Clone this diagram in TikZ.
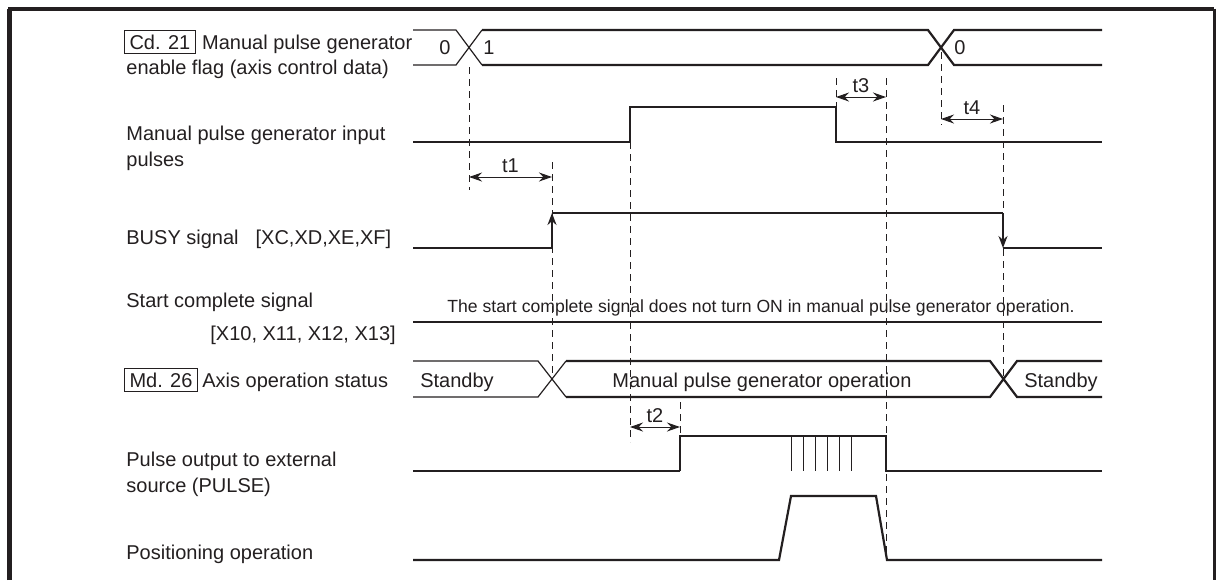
\documentclass[tikz,border=0pt]{standalone}
\usepackage{fontspec}
\setmainfont{Liberation Sans}
\usetikzlibrary{arrows.meta, positioning}
\definecolor{cink}{HTML}{231F20}
\tikzset{
  every picture/.style={font=\fontsize{10pt}{13pt}\selectfont, color=cink},
  sig/.style={line width=1.1pt},
  sigpre/.style={line width=0.6pt},
  guide/.style={line width=0.5pt, dash pattern=on 3.5pt off 2.5pt},
  dimarrow/.style={{Stealth[length=6.5pt,width=4.5pt]}-{Stealth[length=6.5pt,width=4.5pt]}, line width=0.5pt},
  dimlbl/.style={above, inner sep=2pt},
  flank/.style={-{Stealth[length=6pt,width=4.5pt]}, line width=1.1pt},
  lbl/.style={inner sep=0pt, align=left, anchor=base west},
  tag/.style={draw, line width=0.5pt, inner xsep=2.5pt, inner ysep=2pt, anchor=base west},
  sigtext/.style={inner sep=0pt, anchor=base},
  note/.style={font=\fontsize{8.8pt}{10pt}\selectfont, inner sep=0pt, anchor=base},
}
\begin{document}
\begin{tikzpicture}[x=0.5pt, y=-0.5pt]
  \useasboundingbox (0,0) rectangle (1216,580);
  % frame
  \draw[line width=2.5pt] (9.5,580) -- (9.5,9);
  \draw[line width=2pt] (8.25,9) -- (1214,9);
  \draw[line width=1.5pt] (1214,8.5) -- (1214,580);

  % signal names
  \node[tag] (cd21) at (124,49) {Cd. 21};
  \node[lbl, right=3pt of cd21.base east, anchor=base west] (flag1) {Manual pulse generator};
  \node[lbl] (flag2) at (126,74) {enable flag (axis control data)};
  \node[lbl] (mpgin) at (126,166) {Manual pulse generator input\\pulses};
  \node[lbl] (busy) at (126,244) {BUSY signal\hspace{0.85em}[XC,XD,XE,XF]};
  \node[lbl] (stc) at (126,307) {Start complete signal};
  \node[lbl] (stcx) at (210,340) {[X10, X11, X12, X13]};
  \node[tag] (md26) at (124,387) {Md. 26};
  \node[lbl, right=2pt of md26.base east, anchor=base west] (axis) {Axis operation status};
  \node[lbl] (pout) at (126,492) {Pulse output to external\\source (PULSE)};
  \node[lbl] (posop) at (126,559) {Positioning operation};

  % Cd. 21 enable flag
  \draw[sigpre] (413,30) -- (456,30) -- (482,65) (413,65) -- (456,65) -- (482,30);
  \draw[sig] (482,30) -- (928,30) -- (954,65) -- (1102,65) (482,65) -- (928,65) -- (954,30) -- (1102,30);
  \node[sigtext] (flag0) at (445,54) {0};
  \node[sigtext] (flagon) at (489,54) {1};
  \node[sigtext] (flagoff) at (960,54) {0};

  % input pulses
  \draw[sigpre] (413,142) -- (630,142);
  \draw[sig] (630,142) -- (630,107) -- (836,107) -- (836,142) -- (1102,142);

  % BUSY
  \draw[sigpre] (413,248) -- (552,248);
  \draw[flank] (552,248) -- (552,213);
  \draw[sig] (552,213) -- (1003,213);
  \draw[flank] (1003,213) -- (1003,248);
  \draw[sig] (1003,248) -- (1102,248);

  % start complete
  \draw[sig] (413,322) -- (1102,322);
  \node[note] (stcnote) at (761,312) {The start complete signal does not turn ON in manual pulse generator operation.};

  % Md. 26 axis status
  \draw[sigpre] (413,361) -- (538,361) -- (566,397) (413,397) -- (538,397) -- (566,361);
  \draw[sig] (566,361) -- (990,361) -- (1017,397) -- (1102,397) (566,397) -- (990,397) -- (1017,361) -- (1102,361);
  \node[sigtext] (stby1) at (457,387) {Standby};
  \node[sigtext] (mpgop) at (762,387) {Manual pulse generator operation};
  \node[sigtext] (stby2) at (1061,387) {Standby};

  % pulse output
  \draw[sigpre] (413,471) -- (680,471);
  \draw[sig] (680,471) -- (680,436) -- (886,436) -- (886,471) -- (1102,471);
  \draw[line width=0.5pt] (791,436) -- (791,471) (803,436) -- (803,471) (815,436) -- (815,471)
    (827,436) -- (827,471) (839,436) -- (839,471) (851,436) -- (851,471);

  % positioning
  \draw[sig] (413,560) -- (779,560) -- (791,496) -- (876,496) -- (887,560) -- (1102,560);

  % timing guides
  \draw[guide] (469,67) -- (469,190);
  \draw[guide] (552,162) -- (552,380);
  \draw[guide] (630,142) -- (630,442);
  \draw[guide] (680,402) -- (680,436);
  \draw[guide] (836,78) -- (836,107);
  \draw[guide] (886,78) -- (886,560);
  \draw[guide] (941,52) -- (941,125);
  \draw[guide] (1003,105) -- (1003,380);

  % delays
  \coordinate (t1l) at (469,177);
  \coordinate (t1r) at (552,177);
  \coordinate (t2l) at (630,427);
  \coordinate (t2r) at (680,427);
  \coordinate (t3l) at (836,97);
  \coordinate (t3r) at (886,97);
  \coordinate (t4l) at (941,119);
  \coordinate (t4r) at (1003,119);
  \draw[dimarrow] (t1l) -- node[dimlbl] (t1) {t1} (t1r);
  \draw[dimarrow] (t2l) -- node[dimlbl] (t2) {t2} (t2r);
  \draw[dimarrow] (t3l) -- node[dimlbl] (t3) {t3} (t3r);
  \draw[dimarrow] (t4l) -- node[dimlbl] (t4) {t4} (t4r);
\end{tikzpicture}
\end{document}
